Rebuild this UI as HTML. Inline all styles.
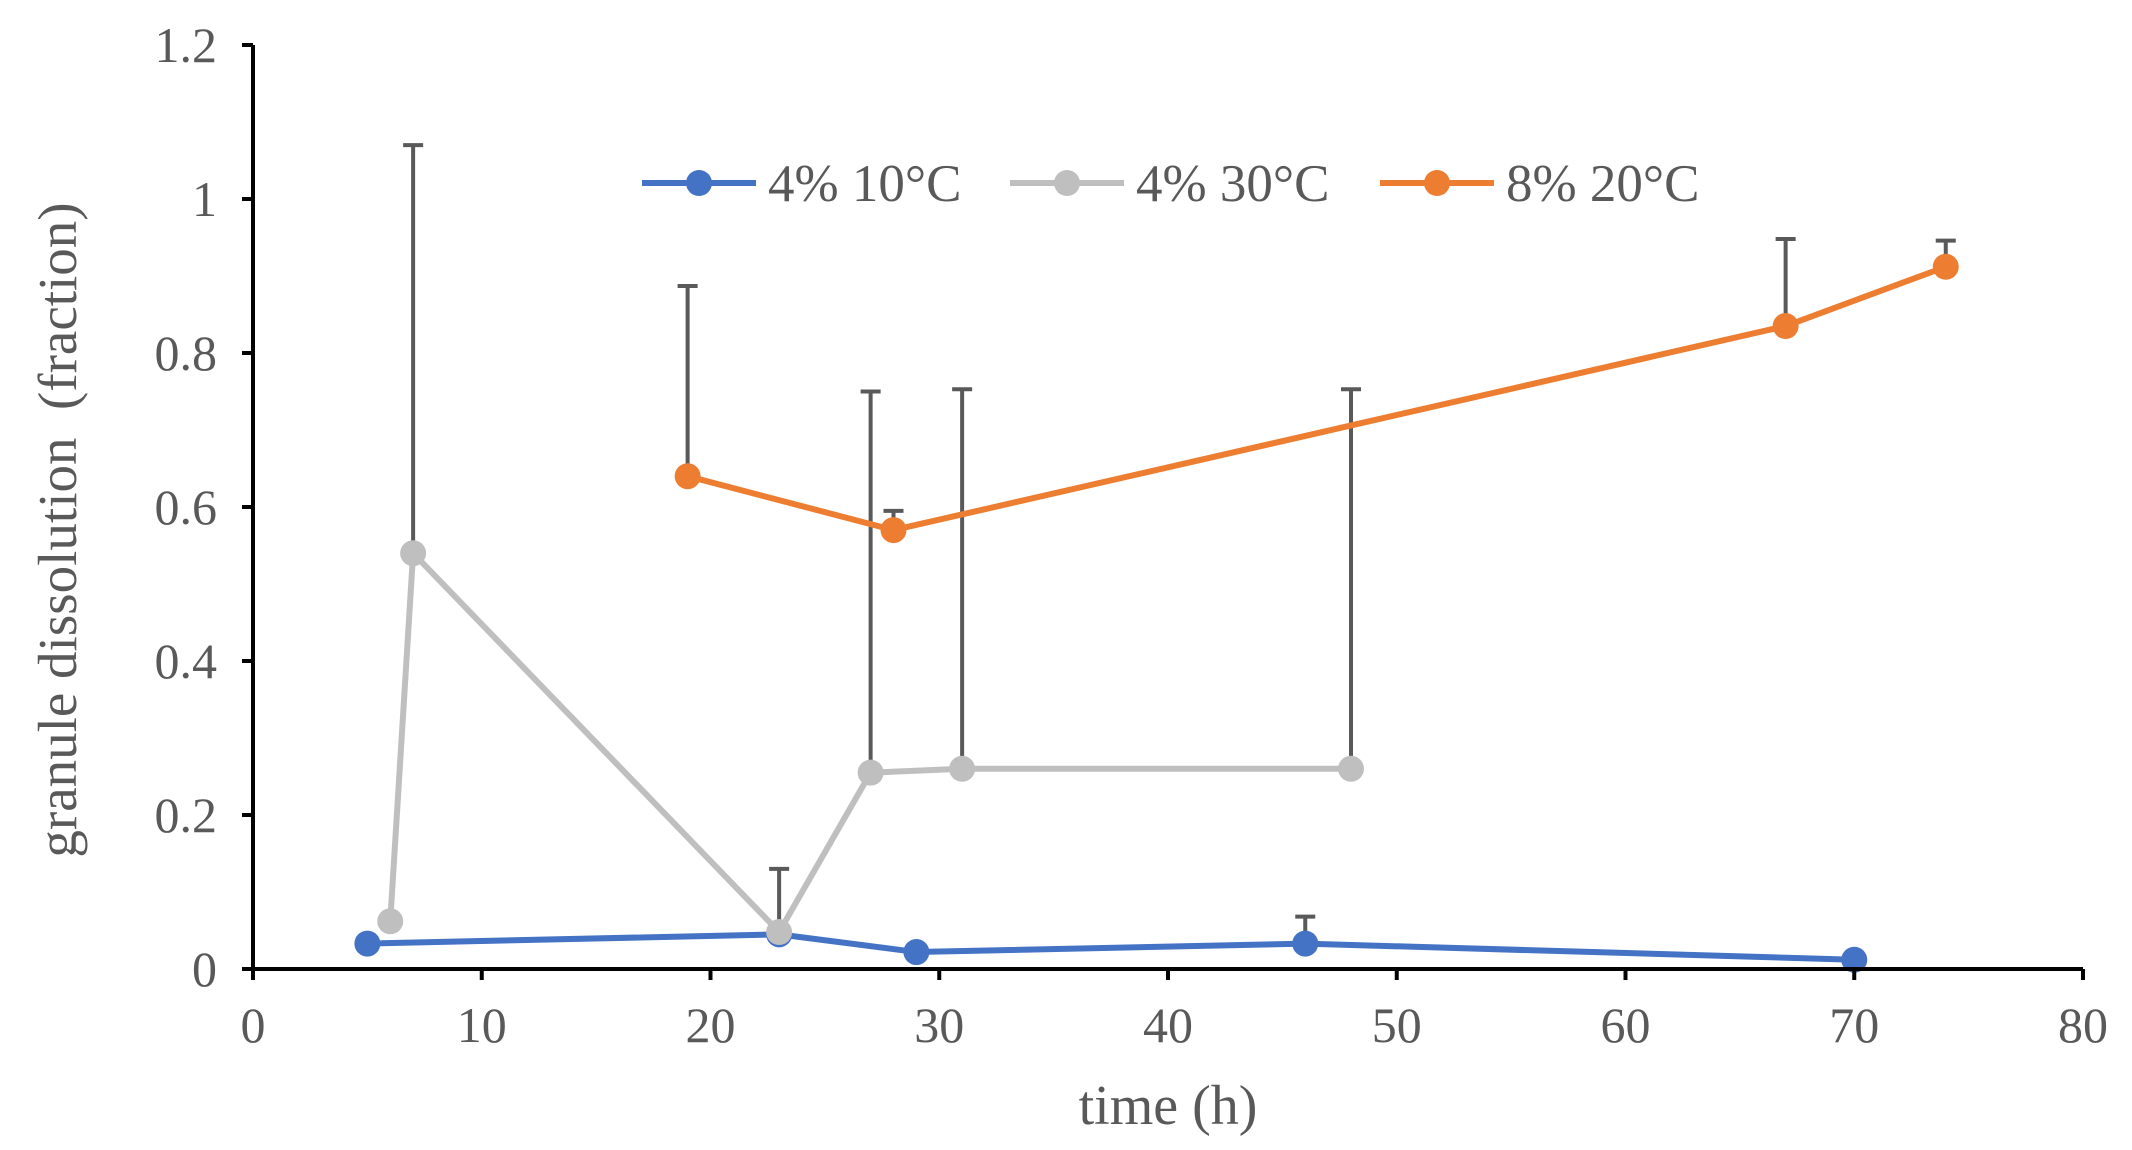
<!DOCTYPE html>
<html><head><meta charset="utf-8"><style>
body{margin:0;background:#fff}
svg{display:block;font-family:"Liberation Serif",serif}
</style></head><body>
<svg id="chart" width="2132" height="1150" viewBox="0 0 2132 1150" xmlns="http://www.w3.org/2000/svg">
<g id="grid"></g><g id="errs"></g><g id="series"></g><g id="axes"></g>
<g id="legend"></g>
<text transform="translate(76,530) rotate(-90)" text-anchor="middle" font-size="55" fill="#595959" xml:space="preserve">granule dissolution  (fraction)</text>
<text x="1168" y="1124" text-anchor="middle" font-size="56" fill="#595959">time (h)</text>
</svg>
<script>
const xTicks=[0,10,20,30,40,50,60,70,80];
const yTicks=[0,0.2,0.4,0.6,0.8,1,1.2];
const yTickLabels=["0","0.2","0.4","0.6","0.8","1","1.2"];
const seriesNames=["4% 10°C","4% 30°C","8% 20°C"];
const seriesColors=["#4472c4","#bfbfbf","#ed7d31"];
const blueX=[5,23,29,46,70];
const blueY=[0.033,0.045,0.022,0.033,0.012];
const blueErr=[0.0,0.0,0.0,0.035,0.008];
const grayX=[6,7,23,27,31,48];
const grayY=[0.062,0.54,0.048,0.255,0.26,0.26];
const grayErr=[0.008,0.53,0.082,0.495,0.493,0.493];
const orangeX=[19,28,67,74];
const orangeY=[0.64,0.57,0.835,0.912];
const orangeErr=[0.247,0.025,0.113,0.034];

const X0=253,X1=2083,Y0=969,Y1=45;
const sx=v=>X0+(v-0)/(80-0)*(X1-X0);
const sy=v=>Y0-(v-0)/(1.2-0)*(Y0-Y1);
const NS="http://www.w3.org/2000/svg";
function mk(tag,attrs,parent){const e=document.createElementNS(NS,tag);for(const k in attrs)e.setAttribute(k,attrs[k]);document.getElementById(parent).appendChild(e);return e;}

let e=mk('line',{x1:X0,y1:Y0,x2:X1,y2:Y0,stroke:'#000','stroke-width':4},'axes');


e=mk('line',{x1:X0,y1:Y0,x2:X0,y2:Y1,stroke:'#000','stroke-width':4},'axes');


xTicks.forEach(t=>{
  mk('line',{x1:sx(t),y1:Y0,x2:sx(t),y2:Y0+11,stroke:'#000','stroke-width':4},'axes');
  const tx=mk('text',{x:sx(t),y:Y0+73,'text-anchor':'middle','font-size':50,fill:'#595959'},'axes');
  tx.textContent=t;
  
  
});
yTicks.forEach((t,i)=>{
  mk('line',{x1:X0-11,y1:sy(t),x2:X0,y2:sy(t),stroke:'#000','stroke-width':4},'axes');
  const tx=mk('text',{x:X0-36,y:sy(t)+17,'text-anchor':'end','font-size':50,fill:'#595959'},'axes');
  tx.textContent=yTickLabels[i];
  
  
});

const all=[[blueX,blueY,blueErr],[grayX,grayY,grayErr],[orangeX,orangeY,orangeErr]];
all.forEach(([xs,ys,er],si)=>{
  xs.forEach((x,i)=>{
    if(er[i]<=0)return;
    const g=mk('path',{d:`M${sx(x)},${sy(ys[i])}V${sy(ys[i]+er[i])}M${sx(x)-10},${sy(ys[i]+er[i])}H${sx(x)+10}`,stroke:'#595959','stroke-width':4,fill:'none'},'errs');
    
    
  });
  const p=mk('polyline',{points:xs.map((x,i)=>sx(x)+','+sy(ys[i])).join(' '),fill:'none',stroke:seriesColors[si],'stroke-width':6,'stroke-linejoin':'round'},'series');
  
  
  xs.forEach((x,i)=>{
    const c=mk('circle',{cx:sx(x),cy:sy(ys[i]),r:13,fill:seriesColors[si]},'series');
    
    
  });
});
const legX=[642,1010,1380];
seriesNames.forEach((n,i)=>{
  const ly=183;
  const l=mk('line',{x1:legX[i],y1:ly,x2:legX[i]+114,y2:ly,stroke:seriesColors[i],'stroke-width':6},'legend');
  
  
  const c=mk('circle',{cx:legX[i]+57,cy:ly,r:13,fill:seriesColors[i]},'legend');
  
  
  const t=mk('text',{x:legX[i]+126,y:ly+18,'font-size':53,fill:'#595959'},'legend');
  t.textContent=n;
  
  
});
</script>
</body></html>
